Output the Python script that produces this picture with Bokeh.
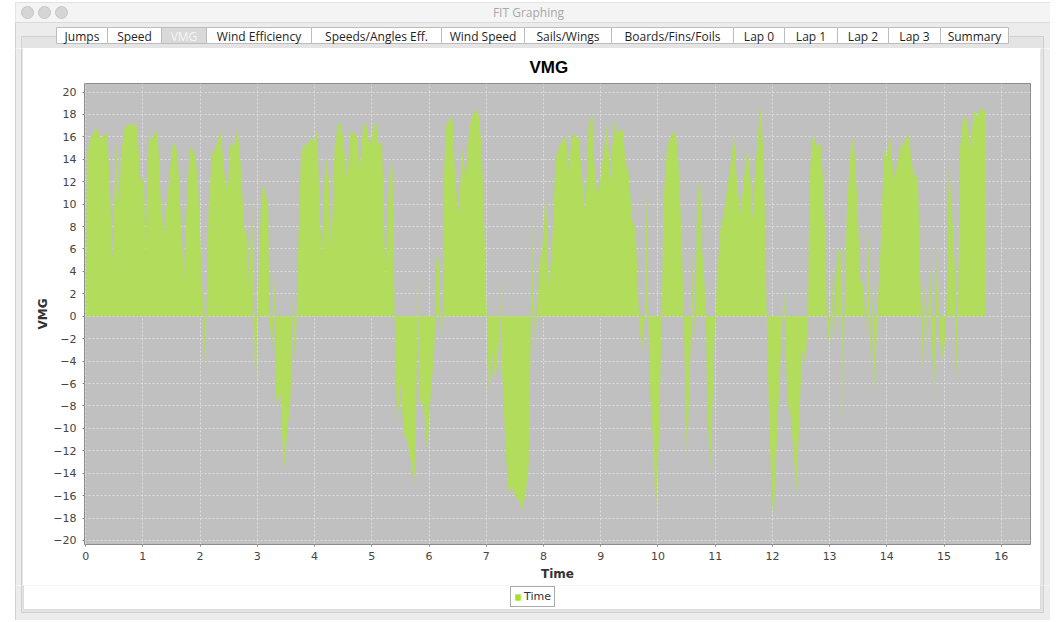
from bokeh.plotting import figure
from bokeh.layouts import column, row
from bokeh.models import Range1d, FixedTicker, Legend, LegendItem, ColumnDataSource
from bokeh.core.properties import value
from bokeh.embed import file_html
from bokeh.resources import INLINE

# ---------------- data ----------------
time = [0.00, 0.02, 0.03, 0.09, 0.15, 0.20, 0.26, 0.32, 0.38, 0.42, 0.47, 0.51, 0.54, 0.58, 0.62, 0.68,
        0.74, 0.80, 0.86, 0.90, 0.96, 1.02, 1.05, 1.08, 1.11, 1.16, 1.22, 1.26, 1.31, 1.37, 1.41, 1.46,
        1.51, 1.57, 1.61, 1.66, 1.72, 1.76, 1.82, 1.88, 1.92, 1.96, 2.01, 2.06, 2.08, 2.11, 2.15, 2.21,
        2.27, 2.33, 2.36, 2.42, 2.48, 2.53, 2.59, 2.65, 2.71, 2.77, 2.82, 2.85, 2.91, 2.94, 2.97, 3.00,
        3.06, 3.10, 3.14, 3.19, 3.21, 3.26, 3.30, 3.33, 3.41, 3.46, 3.52, 3.58, 3.62, 3.65, 3.69, 3.71,
        3.76, 3.81, 3.87, 3.93, 3.99, 4.05, 4.09, 4.13, 4.19, 4.25, 4.29, 4.35, 4.41, 4.47, 4.51, 4.57,
        4.63, 4.69, 4.75, 4.79, 4.85, 4.91, 4.96, 5.01, 5.07, 5.12, 5.18, 5.24, 5.30, 5.36, 5.40, 5.44,
        5.50, 5.56, 5.62, 5.68, 5.74, 5.77, 5.81, 5.83, 5.91, 5.97, 6.03, 6.09, 6.11, 6.13, 6.17, 6.20,
        6.21, 6.24, 6.26, 6.29, 6.35, 6.41, 6.46, 6.52, 6.58, 6.64, 6.70, 6.75, 6.81, 6.87, 6.92, 6.96,
        6.99, 7.01, 7.05, 7.10, 7.16, 7.22, 7.24, 7.26, 7.30, 7.34, 7.39, 7.45, 7.51, 7.57, 7.63, 7.69,
        7.74, 7.77, 7.80, 7.83, 7.86, 7.89, 7.92, 7.98, 8.04, 8.09, 8.15, 8.21, 8.27, 8.33, 8.39, 8.44,
        8.50, 8.56, 8.62, 8.68, 8.73, 8.79, 8.85, 8.89, 8.94, 8.99, 9.05, 9.11, 9.17, 9.23, 9.29, 9.34,
        9.39, 9.43, 9.49, 9.55, 9.61, 9.67, 9.72, 9.77, 9.80, 9.83, 9.87, 9.93, 9.96, 10.02, 10.06, 10.10,
        10.16, 10.22, 10.31, 10.36, 10.42, 10.45, 10.48, 10.51, 10.56, 10.59, 10.61, 10.64, 10.66, 10.68, 10.73, 10.77,
        10.81, 10.84, 10.86, 10.91, 10.95, 10.99, 11.01, 11.03, 11.09, 11.15, 11.21, 11.27, 11.33, 11.38, 11.44, 11.50,
        11.56, 11.62, 11.65, 11.69, 11.73, 11.79, 11.82, 11.85, 11.88, 11.90, 11.92, 11.95, 11.99, 12.02, 12.07, 12.11,
        12.15, 12.18, 12.20, 12.22, 12.26, 12.32, 12.37, 12.42, 12.46, 12.52, 12.58, 12.61, 12.62, 12.65, 12.68, 12.72,
        12.78, 12.84, 12.89, 12.93, 12.95, 12.97, 13.01, 13.04, 13.08, 13.13, 13.19, 13.22, 13.23, 13.26, 13.30, 13.35,
        13.39, 13.43, 13.48, 13.54, 13.60, 13.63, 13.68, 13.71, 13.74, 13.79, 13.83, 13.89, 13.95, 14.00, 14.06, 14.12,
        14.18, 14.24, 14.29, 14.38, 14.44, 14.50, 14.54, 14.57, 14.60, 14.61, 14.67, 14.70, 14.76, 14.82, 14.88, 14.91,
        14.99, 15.04, 15.08, 15.14, 15.20, 15.21, 15.24, 15.28, 15.34, 15.40, 15.46, 15.52, 15.58, 15.63, 15.69, 15.72,
        15.73]

vmg = [-6.0, 14.0, 14.5, 16.0, 16.5, 16.8, 15.8, 16.2, 16.3, 12.0, 5.0, 12.0, 15.5, 10.0, 14.5, 16.8,
       17.2, 17.0, 17.2, 16.8, 12.1, 12.4, 5.0, 13.0, 16.3, 15.7, 16.6, 16.3, 10.7, 7.1, 9.8, 12.1,
       15.1, 15.4, 14.2, 9.2, 3.2, 9.2, 15.1, 14.8, 14.2, 12.1, 6.2, 0.0, -4.5, 0.0, 10.0, 14.5,
       15.0, 16.0, 16.5, 13.0, 11.0, 15.5, 15.0, 16.9, 13.5, 8.0, 7.0, 3.0, 10.0, 0.0, -7.8, 0.0,
       9.5, 12.0, 11.0, 10.0, 0.0, -3.3, 3.8, -7.8, -6.9, -14.0, -10.5, -7.5, 2.0, -4.0, 0.0, 5.3,
       14.2, 15.4, 15.1, 15.9, 15.6, 16.8, 9.2, 5.3, 14.5, 12.4, 5.3, 15.1, 17.2, 17.0, 15.4, 12.1,
       16.6, 16.3, 16.0, 12.7, 17.2, 17.0, 15.1, 16.3, 17.6, 15.1, 15.7, 3.2, 12.1, 13.9, 0.0, -9.9,
       -6.0, -10.5, -11.0, -12.9, -15.1, -10.5, 3.8, -7.5, -8.1, -12.3, -6.9, -3.3, 0.0, 5.3, 5.0, 0.0,
       -2.4, 0.0, 12.1, 16.9, 17.5, 17.8, 12.1, 9.2, 15.1, 12.1, 16.6, 17.8, 18.5, 17.8, 15.1, 9.2,
       3.2, 0.0, -7.5, -3.0, -6.0, -2.4, 3.8, -3.0, -7.5, -12.0, -15.8, -15.2, -16.1, -16.4, -17.3, -15.8,
       -13.5, -4.0, 9.8, -4.5, 3.2, -2.1, 4.4, 6.2, 11.3, 2.6, 6.2, 13.9, 15.1, 15.7, 16.2, 13.0,
       16.3, 16.0, 15.9, 12.1, 9.2, 16.9, 18.2, 13.6, 10.7, 12.1, 14.5, 17.2, 12.1, 17.5, 16.3, 16.6,
       16.6, 13.9, 12.7, 8.6, 7.7, 0.0, -3.3, 0.0, 11.3, 0.0, -7.5, -12.0, -18.2, -10.5, -1.5, 10.7,
       15.1, 16.0, 16.6, 13.6, 6.2, 0.0, -7.5, -12.9, -4.5, 0.0, 6.2, -2.1, 0.0, 9.2, 13.3, 6.2,
       3.2, 0.0, -7.5, -14.0, -8.4, -1.5, 0.0, 3.2, 7.7, 9.2, 11.3, 13.6, 16.3, 12.1, 9.2, 12.1,
       15.1, 12.1, 8.6, 12.1, 15.1, 18.7, 16.6, 13.6, 6.2, 0.0, -4.5, -10.5, -16.4, -18.2, -12.0, -7.5,
       -3.0, 0.0, 3.2, 0.0, -7.5, -9.0, -12.0, -15.8, -10.5, -3.0, -4.5, -1.0, 0.0, 12.1, 15.1, 16.2,
       15.1, 15.4, 12.1, 6.2, 0.0, -2.4, -1.5, 4.7, -2.0, 5.6, 6.2, 0.0, -9.5, 0.0, 9.2, 13.6,
       16.0, 15.1, 10.7, 3.2, 2.6, -3.0, 7.7, -4.5, 3.2, -6.9, 0.0, 6.2, 14.8, 14.2, 16.0, 12.1,
       13.6, 15.1, 15.4, 16.2, 13.6, 12.1, 13.0, 6.2, 0.0, -6.0, 3.8, -3.0, 4.4, -8.4, 8.0, -1.5,
       -4.2, 0.0, 13.6, 9.2, 3.0, -6.0, 0.0, 15.1, 17.9, 17.5, 15.1, 18.4, 17.8, 18.5, 18.4, 18.3,
       0.0]

x_ticks = [0, 1, 2, 3, 4, 5, 6, 7, 8, 9, 10, 11, 12, 13, 14, 15, 16]
y_ticks = [-20, -18, -16, -14, -12, -10, -8, -6, -4, -2, 0, 2, 4, 6, 8, 10, 12, 14, 16, 18, 20]

tab_labels = ["Jumps", "Speed", "VMG", "Wind Efficiency", "Speeds/Angles Eff.", "Wind Speed",
              "Sails/Wings", "Boards/Fins/Foils", "Lap 0", "Lap 1", "Lap 2", "Lap 3", "Summary"]
selected_tab = "VMG"
window_title = "FIT Graphing"
series_name = "Time"

# ---------------- style / window-chrome layout (page pixels) ----------------
tab_edges = [56, 107, 161, 206, 311, 441, 524, 611, 733, 784, 837, 888, 940, 1008]
AREA = "#b1dc5c"
SWATCH = "#a4e22a"
PLOT_BG = "#c0c0c0"
FONT = "DejaVu Sans"
W = 1050
HEAD = 48          # page y where the chart panel starts
FOOT = 585         # page y where the legend strip starts


def chrome(f):
    f.quad(left=[15], right=[1050], top=[2], bottom=[620], fill_color="#ececec", line_color="#d2d2d2")
    f.quad(left=[15], right=[1050], top=[2], bottom=[22], fill_color="#f4f4f4", line_color=None)
    f.segment(x0=[15], x1=[1050], y0=[22], y1=[22], line_color="#dadada")
    f.quad(left=[21], right=[1043], top=[36], bottom=[612], fill_color="#e4e4e4", line_color="#d0d0d0")
    f.quad(left=[23], right=[1040], top=[51], bottom=[609], fill_color="white", line_color="#dadada")


def chrome_fig(w, h, x0, x1, y0, y1):
    f = figure(width=w, height=h, x_range=Range1d(x0, x1), y_range=Range1d(y1, y0),
               x_axis_type=None, y_axis_type=None, toolbar_location=None,
               output_backend="svg", min_border=0, outline_line_color=None,
               background_fill_color="white", border_fill_color="white", frame_align=False)
    chrome(f)
    return f


# ---------------- window title bar + tabs ----------------
header = chrome_fig(W, HEAD, 0, W, 0, HEAD)
header.circle(x=[27, 44, 61], y=[12, 12, 12], radius=6, fill_color="#d5d5d5", line_color="#c6c6c6")
header.text(x=[528], y=[12], text=[window_title], text_align="center", text_baseline="middle",
            text_font=value("Open Sans"), text_font_size="12px", text_color="#a8a8a8")
n = len(tab_labels)
tab_fill = ["#d9d9d9" if t == selected_tab else "white" for t in tab_labels]
tab_text_col = ["#f6f6f6" if t == selected_tab else "#1e1e1e" for t in tab_labels]
header.quad(left=tab_edges[:-1], right=tab_edges[1:], top=[27] * n, bottom=[43] * n,
            fill_color=tab_fill, line_color="#bcbcbc")
header.text(x=[(tab_edges[i] + tab_edges[i + 1]) / 2 for i in range(n)], y=[35.5] * n, text=tab_labels,
            text_align="center", text_baseline="middle", text_font=value("Open Sans"),
            text_font_size="12px", text_color=tab_text_col)

left_strip = chrome_fig(23, FOOT - HEAD, 0, 23, HEAD, FOOT)
right_strip = chrome_fig(10, FOOT - HEAD, 1040, 1050, HEAD, FOOT)

# ---------------- main chart ----------------
src = ColumnDataSource(data=dict(t=time, v=vmg))

p = figure(width=1017, height=FOOT - HEAD, x_range=Range1d(-0.02, 16.51), y_range=Range1d(-20.36, 20.76),
           toolbar_location=None, output_backend="svg", frame_align=False,
           min_border_left=61, min_border_right=10, min_border_top=83 - HEAD, min_border_bottom=FOOT - 544,
           background_fill_color=PLOT_BG, border_fill_color="white",
           outline_line_color="#8c8c8c", title="VMG",
           x_axis_label="Time", y_axis_label="VMG")

p.title.text_font = "Liberation Sans"
p.title.text_font_size = "17px"
p.title.text_font_style = "bold"
p.title.text_color = "#000000"
p.title.align = "left"
p.title.offset = 445
p.title.standoff = 13

p.xaxis.ticker = FixedTicker(ticks=x_ticks)
p.yaxis.ticker = FixedTicker(ticks=y_ticks)
for ax in (p.xaxis, p.yaxis):
    ax.axis_line_color = None
    ax.major_tick_line_color = "#8a8a8a"
    ax.major_tick_out = 2
    ax.major_tick_in = 0
    ax.minor_tick_line_color = None
    ax.major_label_text_font = FONT
    ax.major_label_text_font_size = "11px"
    ax.major_label_text_color = "#444444"
    ax.axis_label_text_font = FONT
    ax.axis_label_text_font_size = "12px"
    ax.axis_label_text_font_style = "bold"
    ax.axis_label_text_color = "#333333"
p.xaxis.major_label_standoff = 5
p.xaxis.axis_label_standoff = 4
p.yaxis.major_label_standoff = 6
p.yaxis.axis_label_standoff = 0

p.grid.grid_line_color = "#dcdcdc"
p.grid.grid_line_dash = "2 2"
p.grid.grid_line_width = 1

r = p.varea(x="t", y1=0, y2="v", source=src, fill_color=AREA, fill_alpha=1.0)

# ---------------- bottom strip with the legend ----------------
footer = chrome_fig(W, 620 - FOOT, 0, W, FOOT, 620)
# legend swatch renderer: the same series, which lies outside this strip's visible ranges
swatch = footer.varea(x="t", y1=0, y2="v", source=src, fill_color=SWATCH)
legend = Legend(items=[LegendItem(label=series_name, renderers=[swatch])], location=(510, 13),
                orientation="horizontal", border_line_color="#555555", border_line_width=1,
                background_fill_color="white", background_fill_alpha=1.0,
                padding=3, margin=0, spacing=0, glyph_width=7, glyph_height=8,
                label_height=10, label_standoff=3,
                label_text_font=FONT, label_text_font_size="11px", label_text_color="#333333")
footer.add_layout(legend)

layout = column(header, row(left_strip, p, right_strip), footer)

open("out.html", "w").write(file_html(layout, INLINE))
